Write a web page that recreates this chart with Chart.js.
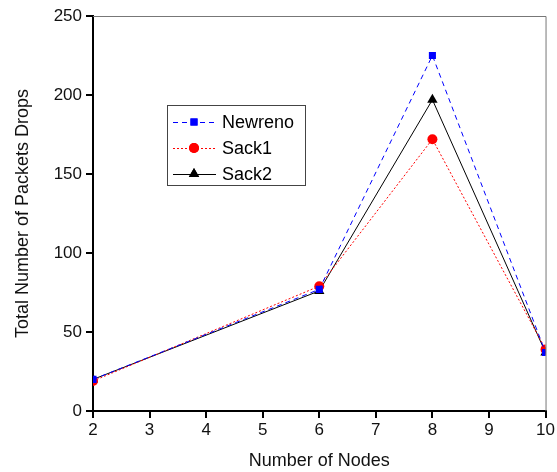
<!DOCTYPE html>
<html>
<head>
<meta charset="utf-8">
<script src="https://cdn.jsdelivr.net/npm/chart.js@4"></script>
<style>
html,body{margin:0;padding:0;background:#fff;}
#wrap{width:557px;height:472px;position:relative;}
</style>
</head>
<body>
<div id="wrap"><canvas id="c" width="557" height="472"></canvas></div>
<script>
const nodes = [2, 6, 8, 10];
const newreno = [20, 77, 225, 37];
const sack1 = [19, 79, 172, 39];
const sack2 = [20, 76, 197, 37];
const xTicks = [2, 3, 4, 5, 6, 7, 8, 9, 10];
const yTicks = [0, 50, 100, 150, 200, 250];
const seriesNames = ['Newreno', 'Sack1', 'Sack2'];

const FONT = 'Liberation Sans, Arial, sans-serif';

function pts(vals){ return nodes.map((x,i)=>({x:x,y:vals[i]})); }

const styles = [
  {color:'#0000ff', dash:[5,4], point:'rect', r:5},
  {color:'#ff0000', dash:[2,2], point:'circle', r:5},
  {color:'#000000', dash:[], point:'triangle', r:6}
];

const legendPlugin = {
  id:'boxLegend',
  afterDraw(chart){
    const ctx = chart.ctx;
    const ca = chart.chartArea;
    ctx.save();
    ctx.strokeStyle = '#777';
    ctx.lineWidth = 1;
    ctx.beginPath();
    ctx.moveTo(ca.left, ca.top+0.5);
    ctx.lineTo(ca.right+0.5, ca.top+0.5);
    ctx.lineTo(ca.right+0.5, ca.bottom);
    ctx.stroke();
    const bx=167, by=105, bw=138, bh=80;
    ctx.strokeStyle='#444';
    ctx.strokeRect(bx+0.5, by+0.5, bw, bh);
    const rows=[122,148,174];
    ctx.font = '18px ' + FONT;
    ctx.textBaseline='middle';
    ctx.textAlign='left';
    seriesNames.forEach((name,i)=>{
      const s=styles[i];
      const y=rows[i];
      ctx.strokeStyle=s.color;
      ctx.lineWidth=1;
      ctx.setLineDash(s.dash);
      ctx.beginPath();
      ctx.moveTo(173,y+0.5);
      ctx.lineTo(216,y+0.5);
      ctx.stroke();
      ctx.setLineDash([]);
      ctx.fillStyle=s.color;
      Chart.helpers.drawPoint(ctx,{pointStyle:s.point, radius:s.r, rotation:0, borderWidth:0}, 194, y);
      ctx.fill();
      ctx.fillStyle='#000';
      ctx.fillText(name, 222, y+1);
    });
    ctx.restore();
  }
};

const datasets = [newreno, sack1, sack2].map((vals,i)=>({
  label: seriesNames[i],
  data: pts(vals),
  borderColor: styles[i].color,
  backgroundColor: styles[i].color,
  borderWidth: 1,
  borderDash: styles[i].dash,
  pointStyle: styles[i].point,
  pointRadius: styles[i].r,
  pointBorderWidth: 0,
  pointBackgroundColor: styles[i].color,
  tension: 0
}));

new Chart(document.getElementById('c'), {
  type:'line',
  data:{datasets: datasets},
  options:{
    responsive:false,
    animation:false,
    devicePixelRatio:1,
    layout:{padding:{left:12, right:10, top:16, bottom:0}},
    plugins:{legend:{display:false}, tooltip:{enabled:false}},
    scales:{
      x:{
        type:'linear', min:2, max:10,
        afterBuildTicks(s){ s.ticks = xTicks.map(v=>({value:v})); },
        afterFit(s){ s.height = 61; },
        grid:{display:true, drawOnChartArea:false, drawTicks:true, tickLength:7, color:'#000', lineWidth:2},
        border:{display:true, color:'#000', width:2},
        ticks:{color:'#111', font:{family:FONT, size:17}, padding:2, maxRotation:0},
        title:{display:true, text:'Number of Nodes', color:'#111', font:{family:FONT, size:18}, padding:{top:1,bottom:0}}
      },
      y:{
        type:'linear', min:0, max:250,
        afterBuildTicks(s){ s.ticks = yTicks.map(v=>({value:v})); },
        afterFit(s){ s.width = 81; },
        grid:{display:true, drawOnChartArea:false, drawTicks:true, tickLength:7, color:'#000', lineWidth:2},
        border:{display:true, color:'#000', width:2},
        ticks:{color:'#111', font:{family:FONT, size:17}, padding:4},
        title:{display:true, text:'Total Number of Packets Drops', color:'#111', font:{family:FONT, size:18}, padding:{top:0,bottom:4}}
      }
    }
  },
  plugins:[legendPlugin]
});
</script>
</body>
</html>
